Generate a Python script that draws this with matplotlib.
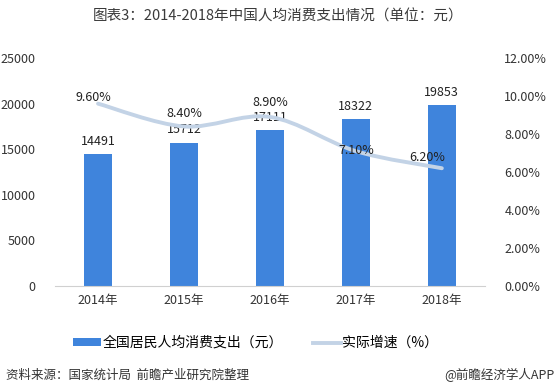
import matplotlib
matplotlib.use('Agg')
import matplotlib.pyplot as plt
from matplotlib.path import Path
from matplotlib.patches import PathPatch
from matplotlib.lines import Line2D
from matplotlib.patches import Patch
import numpy as np

plt.rcParams['font.family'] = ['Noto Sans CJK SC', 'DejaVu Sans']

# data
years = ['2014年', '2015年', '2016年', '2017年', '2018年']
spending = [14491, 15712, 17111, 18322, 19853]
growth = [9.6, 8.4, 8.9, 7.1, 6.2]
growth_labels = ['9.60%', '8.40%', '8.90%', '7.10%', '6.20%']

bar_color = '#3f84dc'
line_color = '#c3d3e6'
text_color = '#333333'

fig = plt.figure(figsize=(5.56, 3.91), dpi=100)
ax = fig.add_axes([0.099, 0.2685, 0.773, 0.583])
ax2 = ax.twinx()

x = np.arange(len(years))
ax.bar(x, spending, width=0.33, color=bar_color, zorder=2)
for xi, v in zip(x, spending):
    ax.text(xi, v + 700, str(v), ha='center', va='bottom', fontsize=9, color='#222222')

ax.set_xlim(-0.5, 4.5)
ax.set_ylim(0, 25000)
ax.set_yticks(np.arange(0, 25001, 5000))
ax.set_xticks(x)
ax.set_xticklabels(years)

ax2.set_ylim(0, 12)
ax2.set_yticks(np.arange(0, 12.01, 2))
ax2.set_yticklabels(['%.2f%%' % t for t in np.arange(0, 12.01, 2)])

# smoothed line (Catmull-Rom style Bezier through the data points)
pts = np.column_stack([x, growth]).astype(float)
verts = [tuple(pts[0])]
codes = [Path.MOVETO]
n = len(pts)
for i in range(n - 1):
    p0 = pts[i - 1] if i > 0 else pts[i]
    p1 = pts[i]
    p2 = pts[i + 1]
    p3 = pts[i + 2] if i + 2 < n else pts[i + 1]
    c1 = p1 + (p2 - p0) / 6.0
    c2 = p2 - (p3 - p1) / 6.0
    verts += [tuple(c1), tuple(c2), tuple(p2)]
    codes += [Path.CURVE4] * 3
ax2.add_patch(PathPatch(Path(verts, codes), facecolor='none', edgecolor=line_color,
                        lw=2.8, capstyle='round', zorder=3))

label_offsets = [(-0.05, 0.35), (0.0, 0.7), (0.0, 0.75), (0.0, 0.05), (-0.17, 0.55)]
for xi, g, lab, (dx, dy) in zip(x, growth, growth_labels, label_offsets):
    ax2.text(xi + dx, g + dy, lab, ha='center', va='center', fontsize=9, color='#222222', zorder=4)

for a in (ax, ax2):
    for s in ('top', 'left', 'right'):
        a.spines[s].set_visible(False)
    a.spines['bottom'].set_color('#d0d0d0')
    a.tick_params(length=0, labelsize=9, colors=text_color, pad=6)
ax2.spines['bottom'].set_visible(False)
ax.tick_params(axis='y', pad=14)
ax2.tick_params(axis='y', pad=14)

fig.text(0.5, 0.957, '图表3：2014-2018年中国人均消费支出情况（单位：元）', ha='center', va='center',
         fontsize=10.5, color='#3a3a3a')

handles = [Patch(facecolor=bar_color, edgecolor='none'),
           Line2D([0], [0], color=line_color, lw=2.8)]
fig.legend(handles, ['全国居民人均消费支出（元）', '实际增速（%）'], loc='center',
           bbox_to_anchor=(0.46, 0.123), ncol=2, frameon=False, fontsize=10,
           handlelength=2.0, handleheight=0.45, handletextpad=0.1, columnspacing=2.2)

fig.text(0.01, 0.04, '资料来源：国家统计局  前瞻产业研究院整理', ha='left', va='center',
         fontsize=9, color='#333333', style='italic')
fig.text(0.998, 0.04, '@前瞻经济学人APP', ha='right', va='center', fontsize=9, color='#333333')

fig.savefig('out.png', dpi=100, facecolor='white')
